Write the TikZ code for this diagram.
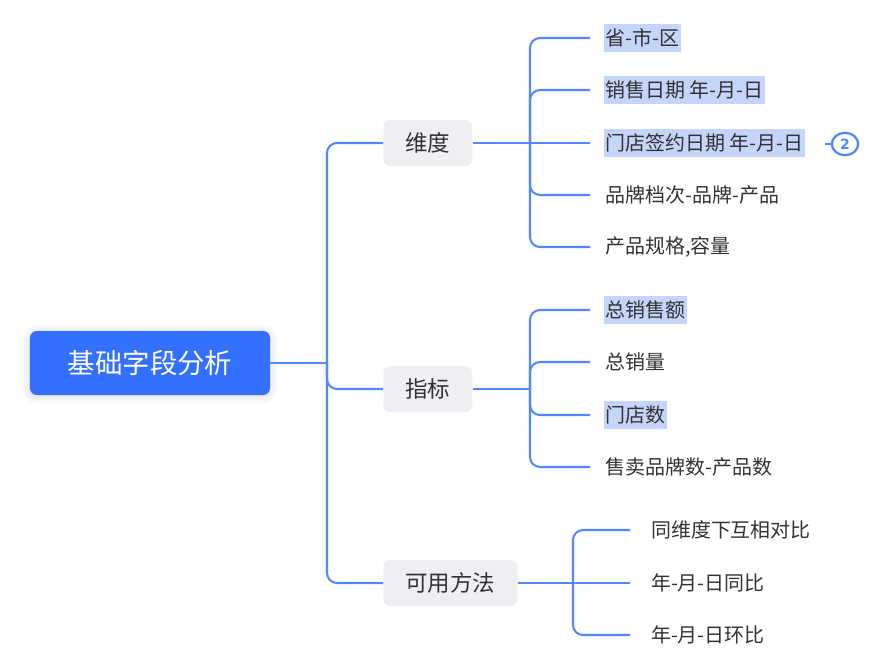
\documentclass[tikz,border=0pt]{standalone}
\usepackage{fontspec}
\usepackage{tikz}
\usetikzlibrary{positioning,shadows.blur,shapes.geometric}
\newfontfamily\cjk{Noto Sans CJK SC}
\newfontfamily\numfont{DejaVu Sans}
\definecolor{mmBlue}{RGB}{51,112,255}
\definecolor{mmLine}{RGB}{82,136,255}
\definecolor{mmGray}{RGB}{238,239,242}
\definecolor{mmText}{RGB}{50,50,50}
\definecolor{mmMark}{RGB}{196,212,250}

\begin{document}
\begin{tikzpicture}[x=0.025cm, y=-0.025cm,
  every node/.style={font=\cjk, text=mmText},
  root/.style={rectangle, rounded corners=5pt, fill=mmBlue, text=white,
    minimum width=6cm, minimum height=1.6cm, font=\cjk\fontsize{19.5}{22}\selectfont,
    blur shadow={shadow xshift=0pt, shadow yshift=-1pt, shadow blur radius=6pt, shadow opacity=18, shadow blur extra rounding=5pt}},
  branch/.style={rectangle, rounded corners=5pt, fill=mmGray, inner xsep=0.55cm,
    minimum height=1.15cm, font=\cjk\fontsize{16}{19}\selectfont, anchor=west},
  leaf/.style={rectangle, inner xsep=1pt, inner ysep=0pt, minimum height=0.7cm,
    outer xsep=10pt, outer ysep=0pt, font=\cjk\fontsize{14.2}{17}\selectfont, anchor=west},
  hl/.style={fill=mmMark},
  link/.style={draw=mmLine, line width=1.5pt, rounded corners=0.25cm},
  badge/.style={ellipse, draw=mmLine, line width=1.6pt, minimum width=0.66cm, minimum height=0.56cm,
    inner sep=0pt, text=mmLine, font=\numfont\bfseries\fontsize{10}{12}\selectfont}]
  \useasboundingbox (0,0) rectangle (889,663);

  \node[root] (root) at (150,363) {基础字段分析};

  \node[branch] (wd) at (383,143) {维度};
  \node[branch] (zb) at (383,389) {指标};
  \node[branch] (ff) at (383,583) {可用方法};

  \node[leaf, hl] (wd1) at (590,38) {省-市-区};
  \node[leaf, hl] (wd2) at (590,90) {销售日期 年-月-日};
  \node[leaf, hl] (wd3) at (590,143) {门店签约日期 年-月-日};
  \node[leaf] (wd4) at (590,195) {品牌档次-品牌-产品};
  \node[leaf] (wd5) at (590,247) {产品规格,容量};
  \node[badge] (two) at (845,144) {2};

  \node[leaf, hl] (zb1) at (590,310) {总销售额};
  \node[leaf] (zb2) at (590,362) {总销量};
  \node[leaf, hl] (zb3) at (590,415) {门店数};
  \node[leaf] (zb4) at (590,467) {售卖品牌数-产品数};

  \node[leaf, outer xsep=14pt] (ff1) at (630,530) {同维度下互相对比};
  \node[leaf, outer xsep=14pt] (ff2) at (630,583) {年-月-日同比};
  \node[leaf, outer xsep=14pt] (ff3) at (630,635) {年-月-日环比};

  \coordinate (t0) at (327,363);
  \coordinate (t1) at (530,143);
  \coordinate (t2) at (530,389);
  \coordinate (t3) at (573,583);
  \coordinate (m2) at (825,144);

  \draw[link] (root.east) -- (t0);
  \draw[link] (t0) |- (wd.west);
  \draw[link] (t0) |- (zb.west);
  \draw[link] (t0) |- (ff.west);

  \draw[link] (wd.east) -- (t1);
  \draw[link] (t1) |- (wd1.west);
  \draw[link] (t1) |- (wd2.west);
  \draw[link] (t1) -- (wd3.west);
  \draw[link] (t1) |- (wd4.west);
  \draw[link] (t1) |- (wd5.west);
  \draw[link] (m2) -- (two.west);

  \draw[link] (zb.east) -- (t2);
  \draw[link] (t2) |- (zb1.west);
  \draw[link] (t2) |- (zb2.west);
  \draw[link] (t2) |- (zb3.west);
  \draw[link] (t2) |- (zb4.west);

  \draw[link] (ff.east) -- (t3);
  \draw[link] (t3) |- (ff1.west);
  \draw[link] (t3) -- (ff2.west);
  \draw[link] (t3) |- (ff3.west);
\end{tikzpicture}
\end{document}
